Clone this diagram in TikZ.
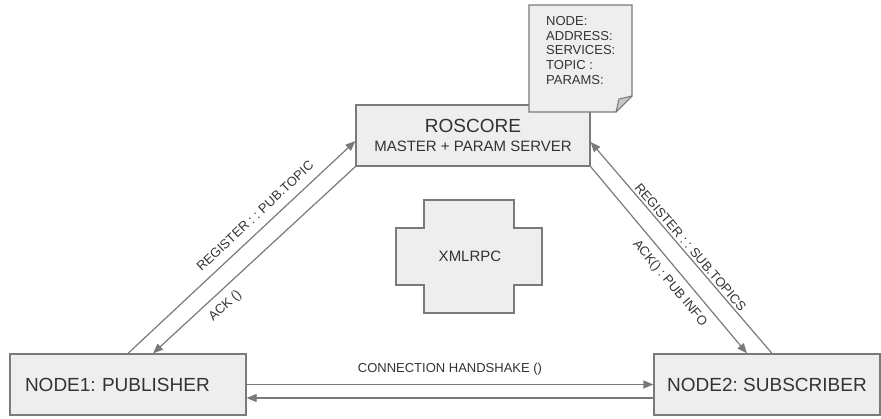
\documentclass[tikz,border=0pt]{standalone}
\usepackage{fontspec}
\setmainfont{Liberation Sans}
\usetikzlibrary{arrows.meta,calc}
\frenchspacing
\definecolor{boxfill}{HTML}{EEEEEE}
\definecolor{edge}{HTML}{7A7A7A}
\definecolor{ink}{HTML}{333333}
\definecolor{foldfill}{HTML}{C8C8C8}
\tikzset{
  boxstyle/.style={draw=edge, fill=boxfill, line width=1.2pt, rectangle, text=ink},
  conn/.style={draw=edge, line width=1.2pt, -{Triangle[length=10pt,width=8pt]}},
  lbl/.style={font=\fontsize{13}{15}\selectfont, text=ink, inner sep=0pt, sloped},
}
\begin{document}
\begin{tikzpicture}[x=1pt,y=-1pt]
\frenchspacing
\useasboundingbox (0,0) rectangle (881,418);
% nodes
\node[boxstyle, minimum width=234pt, minimum height=61pt, align=center, font=\fontsize{15}{19}\selectfont] (roscore) at (473,135.5)
  {{\fontsize{19}{22}\selectfont ROSCORE}\\MASTER + PARAM SERVER};
\node[boxstyle, minimum height=61pt, text width=206pt, inner xsep=15pt, inner ysep=0pt, align=left,
  font=\fontsize{19}{22}\selectfont] (node1) at (128,384.5) {NODE1: PUBLISHER};
\node[boxstyle, minimum width=226pt, minimum height=61pt, font=\fontsize{19}{22}\selectfont] (node2) at (767,384.5) {NODE2: SUBSCRIBER};
% XMLRPC cross
\draw[draw=edge, fill=boxfill, line width=1.2pt]
  (424,200) -- (514,200) -- (514,228) -- (542,228) -- (542,285) -- (514,285) -- (514,313)
  -- (424,313) -- (424,285) -- (396,285) -- (396,228) -- (424,228) -- cycle;
\node[text=ink, font=\fontsize{15}{18}\selectfont] (xml) at (470,256.5) {XMLRPC};
% note
\draw[draw=edge, fill=boxfill, line width=1.2pt]
  (529,5) -- (632,5) -- (632,96) -- (616,112) -- (529,112) -- cycle;
\draw[draw=edge, fill=foldfill, line width=1pt, line join=round]
  (632,96) -- (616,112) -- (619,99) -- cycle;
\node[anchor=west, align=left, inner sep=0pt, text=ink, font=\fontsize{13}{14.7}\selectfont] (note) at (546,50.5)
  {NODE:\\ADDRESS:\\SERVICES:\\TOPIC :\\PARAMS:};
% diagonal connectors
\draw[conn] (node1.north) -- ([yshift=-5.5pt]roscore.west);
\path (node1.north) -- ([yshift=-5.5pt]roscore.west)
  node[lbl, pos=0.60, above=9pt] {REGISTER : : PUB.TOPIC};
\draw[conn] (roscore.south west) -- ([xshift=25pt]node1.north);
\path ([xshift=25pt]node1.north) -- (roscore.south west)
  node[lbl, pos=0.31, below=8pt] {ACK ()};
\draw[conn] ([xshift=5pt]node2.north) -- ([yshift=-6.5pt]roscore.east);
\path ([yshift=-6.5pt]roscore.east) -- ([xshift=5pt]node2.north)
  node[lbl, pos=0.52, above=2.5pt] {REGISTER : : SUB.TOPICS};
\draw[conn] (roscore.south east) -- ([xshift=-20pt]node2.north);
\path (roscore.south east) -- ([xshift=-20pt]node2.north)
  node[lbl, pos=0.576, below=8pt] {ACK() : PUB INFO};
% handshake
\draw[conn] (node1.east) -- (node1.east -| node2.west)
  node[midway, above=9pt, text=ink, inner sep=0pt, font=\fontsize{13}{15}\selectfont] {CONNECTION HANDSHAKE ()};
\draw[conn] ([yshift=-13.5pt]node2.west) -- ([yshift=-13.5pt]node2.west -| node1.east);
\end{tikzpicture}
\end{document}
